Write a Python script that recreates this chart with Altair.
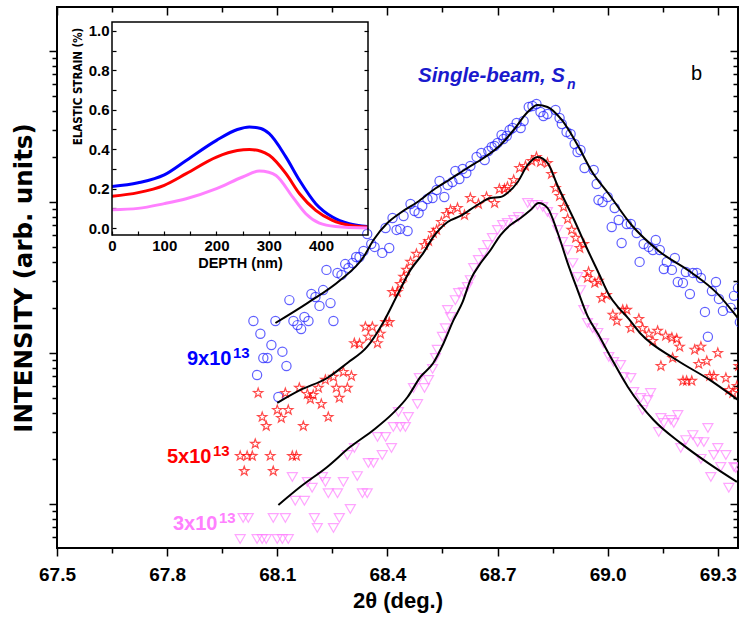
import altair as alt
import pandas as pd

# ---------------- main data: 2theta (deg) and intensity (arb. units) ----------------
blue_x = [68.035, 68.045, 68.054, 68.062, 68.073, 68.084, 68.095, 68.103, 68.114, 68.125,
          68.133, 68.144, 68.155, 68.165, 68.174, 68.185, 68.193, 68.204, 68.215, 68.225,
          68.234, 68.245, 68.253, 68.264, 68.275, 68.285, 68.294, 68.305, 68.315, 68.324,
          68.335, 68.345, 68.356, 68.365, 68.386, 68.395, 68.405, 68.414, 68.425, 68.435,
          68.444, 68.455, 68.463, 68.474, 68.485, 68.495, 68.509, 68.523, 68.534, 68.542,
          68.555, 68.564, 68.577, 68.585, 68.596, 68.605, 68.615, 68.626, 68.643, 68.656,
          68.665, 68.675, 68.684, 68.692, 68.700, 68.711, 68.716, 68.725, 68.733, 68.741,
          68.752, 68.763, 68.771, 68.785, 68.795, 68.806, 68.817, 68.825, 68.836, 68.858,
          68.869, 68.875, 68.888, 68.899, 68.910, 68.918, 68.926, 68.937, 68.962, 68.970,
          68.975, 68.986, 69.000, 69.011, 69.019, 69.030, 69.038, 69.052, 69.063, 69.079,
          69.087, 69.098, 69.112, 69.123, 69.131, 69.142, 69.153, 69.161, 69.175, 69.183,
          69.191, 69.205, 69.213, 69.224, 69.232, 69.243, 69.254, 69.265, 69.273, 69.284,
          69.295, 69.303, 69.314, 69.335, 69.344, 69.355, 69.360]
blue_y = [163, 71.5, 134, 92.7, 92.7, 113, 163, 51.1, 102, 82.0,
          224, 163, 153, 144, 173, 163, 246, 235, 205, 261,
          355, 214, 163, 339, 329, 388, 366, 394, 432, 432,
          474, 614, 527, 504, 460, 673, 496, 784, 653, 663,
          808, 643, 970, 872, 846, 941, 1047, 1063, 1201, 1377,
          1079, 1296, 1357, 1605, 1420, 1654, 1556, 1731, 1986, 2112,
          1897, 2176, 2313, 2349, 2459, 2778, 2613, 2736, 2999, 3091,
          3336, 3091, 3439, 4258, 4324, 4457, 3945, 3711, 3827, 4067,
          3599, 3286, 2909, 2820, 2422, 2143, 2209, 1679, 1629, 1316,
          1031, 1000, 1079, 683, 913, 760, 535, 715, 715, 623,
          401, 527, 504, 481, 560, 481, 360, 401, 355, 426,
          295, 291, 344, 246, 339, 339, 314, 187, 128, 257,
          295, 228, 190, 199, 239, 269, 160]

red_x = [67.999, 68.010, 68.018, 68.032, 68.040, 68.048, 68.059, 68.070, 68.081, 68.089,
         68.100, 68.111, 68.122, 68.130, 68.141, 68.152, 68.160, 68.171, 68.182, 68.190,
         68.198, 68.212, 68.220, 68.231, 68.239, 68.253, 68.261, 68.269, 68.280, 68.291,
         68.302, 68.310, 68.324, 68.340, 68.348, 68.359, 68.373, 68.381, 68.395, 68.405,
         68.414, 68.427, 68.435, 68.444, 68.452, 68.463, 68.479, 68.501, 68.512, 68.525,
         68.534, 68.547, 68.561, 68.572, 68.591, 68.610, 68.626, 68.648, 68.670, 68.692,
         68.705, 68.719, 68.727, 68.744, 68.760, 68.776, 68.793, 68.806, 68.817, 68.836,
         68.847, 68.858, 68.869, 68.880, 68.891, 68.902, 68.913, 68.924, 68.935, 68.948,
         68.945, 68.965, 68.975, 68.984, 68.997, 69.014, 69.025, 69.041, 69.052, 69.063,
         69.085, 69.095, 69.112, 69.123, 69.136, 69.145, 69.158, 69.175, 69.188, 69.196,
         69.177, 69.205, 69.215, 69.229, 69.237, 69.254, 69.248, 69.270, 69.278, 69.289,
         69.300, 69.322, 69.330, 69.341, 69.352, 69.357]
red_y = [20.8, 16.5, 20.8, 20.8, 25.0, 54.3, 37.7, 32.8, 20.8, 16.5,
         41.9, 37.1, 54.3, 41.9, 20.8, 20.8, 58.7, 32.8, 53.5, 49.6,
         52.7, 58.7, 45.9, 66.3, 37.7, 69.4, 58.7, 50.4, 74.8, 58.7,
         70.4, 116, 115, 149, 128, 149, 116, 134, 160, 160,
         253, 253, 286, 319, 355, 401, 453, 519, 552, 623,
         653, 737, 833, 885, 913, 820, 1063, 970, 1079, 985,
         1219, 1219, 1257, 1399, 1679, 1731, 1868, 1986, 1840, 1813,
         1532, 1238, 1096, 927, 772, 653, 578, 496, 527, 344,
         314, 291, 300, 231, 242, 179, 163, 193, 193, 146,
         168, 146, 134, 120, 140, 82.0, 130, 126, 124, 110,
         92.7, 65.3, 65.3, 65.3, 105, 110, 84.6, 88.5, 70.4, 70.4,
         100, 68.3, 56.9, 54.3, 60.4, 82.0]

violet_x = [67.999, 68.007, 68.021, 68.045, 68.059, 68.070, 68.089, 68.100, 68.114, 68.122,
            68.130, 68.141, 68.149, 68.174, 68.182, 68.195, 68.201, 68.209, 68.223, 68.231,
            68.239, 68.253, 68.264, 68.269, 68.280, 68.291, 68.299, 68.310, 68.318, 68.332,
            68.345, 68.348, 68.362, 68.373, 68.386, 68.395, 68.411, 68.416, 68.430, 68.435,
            68.449, 68.457, 68.471, 68.482, 68.487, 68.501, 68.512, 68.523, 68.531, 68.536,
            68.550, 68.558, 68.564, 68.572, 68.585, 68.594, 68.607, 68.618, 68.626, 68.635,
            68.648, 68.662, 68.673, 68.686, 68.700, 68.714, 68.727, 68.744, 68.757, 68.782,
            68.795, 68.809, 68.823, 68.836, 68.850, 68.864, 68.877, 68.891, 68.905, 68.918,
            68.926, 68.935, 68.945, 68.959, 68.973, 68.989, 69.003, 69.016, 69.035, 69.044,
            69.063, 69.071, 69.090, 69.095, 69.109, 69.117, 69.139, 69.145, 69.153, 69.172,
            69.180, 69.191, 69.199, 69.213, 69.232, 69.245, 69.254, 69.262, 69.273, 69.281,
            69.289, 69.300, 69.308, 69.322, 69.330, 69.344, 69.349]
violet_y = [5.86, 8.08, 8.08, 5.86, 5.86, 5.86, 8.08, 5.86, 5.86, 8.08,
            5.86, 15.1, 10.5, 10.5, 14.0, 12.8, 8.08, 6.94, 15.1, 14.0,
            11.8, 6.94, 11.8, 8.08, 14.0, 21.1, 9.27, 23.5, 15.3, 11.8,
            11.8, 18.7, 18.7, 27.8, 21.1, 27.8, 23.5, 32.4, 40.7, 32.4,
            32.4, 37.7, 58.7, 45.9, 68.3, 58.7, 66.3, 78.4, 92.7, 105,
            128, 146, 193, 173, 224, 250, 253, 274, 304, 366,
            413, 460, 519, 578, 653, 704, 726, 760, 796, 985,
            955, 955, 927, 859, 784, 653, 543, 481, 394, 319,
            261, 193, 158, 146, 136, 116, 94.1, 87.2, 83.3, 69.4,
            68.3, 55.2, 50.4, 41.9, 48.8, 54.3, 30.0, 37.1, 34.4, 36.0,
            34.4, 38.9, 23.5, 26.5, 28.6, 25.7, 19.9, 25.7, 31.9, 15.1,
            21.1, 23.5, 17.6, 21.1, 12.8, 17.6, 17.3]

# fitted curves
bluefit_x = [68.095, 68.182, 68.272, 68.335, 68.362, 68.400, 68.435, 68.482, 68.525, 68.572,
             68.618, 68.662, 68.708, 68.744, 68.782, 68.809, 68.836, 68.875, 68.921, 68.956,
             69.003, 69.065, 69.139, 69.226, 69.297, 69.355]
bluefit_y = [158, 214, 304, 432, 560, 726, 846, 1000, 1201, 1420,
             1679, 1956, 2385, 2999, 3945, 4390, 4258, 3493, 2313, 1605,
             1130, 704, 474, 344, 250, 170]
redfit_x = [68.100, 68.163, 68.236, 68.291, 68.345, 68.389, 68.427, 68.463, 68.498, 68.525,
            68.564, 68.599, 68.645, 68.681, 68.708, 68.727, 68.755, 68.782, 68.809, 68.836,
            68.864, 68.910, 68.943, 68.975, 69.005, 69.030, 69.055, 69.090, 69.188, 69.278,
            69.355]
redfit_y = [46.7, 56.9, 68.3, 85.9, 110, 160, 242, 355, 460, 587,
            737, 808, 955, 1063, 1079, 1147, 1357, 1758, 1986, 1813,
            1276, 748, 496, 340, 239, 199, 171, 134, 89.9, 66.3,
            48.8]
violetfit_x = [68.103, 68.163, 68.236, 68.299, 68.362, 68.416, 68.455, 68.490, 68.525, 68.553,
               68.580, 68.605, 68.626, 68.654, 68.681, 68.708, 68.735, 68.763, 68.790, 68.812,
               68.836, 68.864, 68.891, 68.918, 68.945, 68.975, 69.008, 69.055, 69.125, 69.199,
               69.273, 69.352]
violetfit_y = [9.85, 13.0, 17.6, 23.9, 30.9, 40.1, 51.1, 69.4, 85.9, 116,
               165, 218, 304, 394, 481, 604, 704, 784, 885, 985,
               913, 623, 394, 261, 176, 132, 94.1, 59.6, 36.0, 25.3,
               18.7, 14.0]

# ---------------- inset data: depth (nm) vs elastic strain (%) ----------------
inset_blue_depth = [0, 50, 100, 142, 200, 240, 263, 285, 301, 333, 359, 390, 422, 454, 489]
inset_blue_strain = [0.211, 0.23, 0.27, 0.343, 0.445, 0.50, 0.513, 0.505, 0.479, 0.36, 0.242, 0.124, 0.056, 0.022, 0.008]
inset_red_depth = [0, 50, 100, 142, 200, 240, 263, 285, 301, 333, 359, 390, 422, 454, 489]
inset_red_strain = [0.162, 0.18, 0.217, 0.276, 0.36, 0.393, 0.398, 0.39, 0.369, 0.276, 0.174, 0.09, 0.039, 0.014, 0.005]
inset_violet_depth = [0, 50, 100, 142, 200, 250, 282, 300, 314, 346, 371, 397, 428, 489]
inset_violet_strain = [0.093, 0.10, 0.124, 0.149, 0.2, 0.259, 0.289, 0.283, 0.267, 0.157, 0.073, 0.025, 0.008, 0.0]

series_names = ["9x10^13", "5x10^13", "3x10^13"]
series_colors = ["#0000ff", "#ff0000", "#ff80ff"]

x_major = [67.5, 67.8, 68.1, 68.4, 68.7, 69.0, 69.3]
x_minor = [67.65, 67.95, 68.25, 68.55, 68.85, 69.15]
y_major = [10, 100, 1000, 10000]
y_minor = [6, 7, 8, 9] + [m * d for d in (10, 100, 1000) for m in range(2, 10)]
inset_y_ticks = [0.0, 0.1, 0.2, 0.3, 0.4, 0.5, 0.6, 0.7, 0.8, 0.9, 1.0]
inset_x_ticks = [0, 50, 100, 150, 200, 250, 300, 350, 400, 450]

# ---------------- layout constants ----------------
W, H = 681, 541
X_DOMAIN = [67.5, 69.355]
Y_DOMAIN = [5.11, 19560]
IN_X_DOMAIN = [0, 490]
IN_Y_DOMAIN = [-0.035, 1.045]
IN_X_RANGE = [55, 311]
IN_Y_RANGE = [228, 15]
FONT = "Liberation Sans"
TITLE_FONT = "DejaVu Sans"
NARROW_FONT = "Liberation Sans Narrow, DejaVu Sans Condensed, Liberation Sans"
STAR = "M0,-1L0.235,-0.324L0.951,-0.309L0.38,0.124L0.588,0.809L0,0.4L-0.588,0.809L-0.38,0.124L-0.951,-0.309L-0.235,-0.324Z"


def xs():
    return alt.Scale(domain=X_DOMAIN, nice=False, zero=False)


def ys():
    return alt.Scale(type="log", domain=Y_DOMAIN, nice=False)


def ticks_axis(orient, values, size, offset=0):
    return alt.Axis(orient=orient, values=values, tickSize=size, tickWidth=1.5,
                    tickColor="black", labels=False, domain=False, grid=False,
                    title=None, offset=offset)


ax_bottom_major = alt.Axis(orient="bottom", values=x_major, format=".1f", tickSize=8,
                           tickWidth=1.5, tickColor="black", domain=False, grid=False,
                           labelFont=FONT, labelFontSize=19, labelFontWeight="bold",
                           labelColor="black", labelPadding=9, labelFlush=False,
                           labelOverlap=False, title="2θ (deg.)", titleFont=FONT,
                           titleFontSize=22, titleFontWeight="bold", titleColor="black",
                           titlePadding=6)
ax_left_major = alt.Axis(orient="left", values=y_major, tickSize=8, tickWidth=1.5,
                         tickColor="black", labels=False, domain=False, grid=False,
                         title="INTENSITY (arb. units)", titleFont=TITLE_FONT,
                         titleFontSize=24.5, titleFontWeight="bold", titleColor="black",
                         titlePadding=12)

df_blue = pd.DataFrame({"t": blue_x, "i": blue_y})
df_red = pd.DataFrame({"t": red_x, "i": red_y})
df_violet = pd.DataFrame({"t": violet_x, "i": violet_y})
df_fit = pd.concat([
    pd.DataFrame({"t": bluefit_x, "i": bluefit_y, "s": series_names[0]}),
    pd.DataFrame({"t": redfit_x, "i": redfit_y, "s": series_names[1]}),
    pd.DataFrame({"t": violetfit_x, "i": violetfit_y, "s": series_names[2]}),
])

blue = alt.Chart(df_blue).mark_point(shape="circle", filled=False, color="#1e1eff",
                                     size=85, strokeWidth=1.2, clip=True).encode(
    x=alt.X("t:Q", scale=xs(), axis=ax_bottom_major),
    y=alt.Y("i:Q", scale=ys(), axis=ax_left_major))

red = alt.Chart(df_red).mark_point(shape=STAR, filled=False, color="#ff0000",
                                   size=95, strokeWidth=1.2, clip=True).encode(
    x=alt.X("t:Q", scale=xs(), axis=ticks_axis("bottom", x_minor, 5)),
    y=alt.Y("i:Q", scale=ys(), axis=ticks_axis("left", y_minor, 5)))

violet = alt.Chart(df_violet).mark_point(shape="triangle-down", filled=False,
                                         color="#ff80ff", size=100, strokeWidth=1.2,
                                         clip=True).encode(
    x=alt.X("t:Q", scale=xs(), axis=ticks_axis("top", x_major, 8, -8)),
    y=alt.Y("i:Q", scale=ys(), axis=ticks_axis("right", y_major, 8, -8)))

fits = alt.Chart(df_fit).mark_line(color="black", strokeWidth=2, interpolate="monotone",
                                   clip=True).encode(
    x=alt.X("t:Q", scale=xs(), axis=ticks_axis("top", x_minor, 5, -5)),
    y=alt.Y("i:Q", scale=ys(), axis=ticks_axis("right", y_minor, 5, -5)),
    detail="s:N")

# ---------------- inset ----------------
df_inset = pd.concat([
    pd.DataFrame({"d": inset_blue_depth, "e": inset_blue_strain, "s": series_names[0]}),
    pd.DataFrame({"d": inset_red_depth, "e": inset_red_strain, "s": series_names[1]}),
    pd.DataFrame({"d": inset_violet_depth, "e": inset_violet_strain, "s": series_names[2]}),
])


def ixs():
    return alt.Scale(domain=IN_X_DOMAIN, range=IN_X_RANGE, nice=False, zero=False)


def iys():
    return alt.Scale(domain=IN_Y_DOMAIN, range=IN_Y_RANGE, nice=False, zero=False)


ax_in_bottom = alt.Axis(orient="bottom", offset=-(H - IN_Y_RANGE[0] + 4), values=inset_x_ticks,
                        labelExpr="datum.value % 100 === 0 ? datum.label : ''",
                        tickSize=4, tickWidth=1.2, tickColor="black", domain=False,
                        grid=False, labelFont=FONT, labelFontSize=15,
                        labelFontWeight="bold", labelColor="black", labelPadding=3,
                        labelFlush=False, labelOverlap=False, title="DEPTH (nm)",
                        titleFont=FONT, titleFontSize=14.5, titleFontWeight="bold",
                        titleColor="black", titlePadding=3)
ax_in_left = alt.Axis(orient="left", offset=-(IN_X_RANGE[0] + 4), values=inset_y_ticks,
                      labelExpr="round(datum.value * 10) % 2 === 0 ? format(datum.value, '.1f') : ''",
                      tickSize=4, tickWidth=1.2, tickColor="black", domain=False,
                      grid=False, labelFont=FONT, labelFontSize=15, labelFontWeight="bold",
                      labelColor="black", labelPadding=3, labelFlush=False,
                      labelOverlap=False, title="ELASTIC STRAIN (%)", titleFont=NARROW_FONT,
                      titleFontSize=11.5, titleFontWeight="bold", titleColor="black",
                      titlePadding=5, titleY=79)
ax_in_right = alt.Axis(orient="right", offset=-(W - IN_X_RANGE[1] + 4), values=inset_y_ticks,
                       tickSize=4, tickWidth=1.2, tickColor="black", labels=False,
                       domain=False, grid=False, title=None)

inset_lines = alt.Chart(df_inset).mark_line(strokeWidth=3, interpolate="monotone").encode(
    x=alt.X("d:Q", scale=ixs(), axis=ax_in_bottom),
    y=alt.Y("e:Q", scale=iys(), axis=ax_in_left),
    color=alt.Color("s:N", scale=alt.Scale(domain=series_names, range=series_colors),
                    legend=None),
    detail="s:N")

df_frame = pd.DataFrame({"d0": [IN_X_DOMAIN[0]], "d1": [IN_X_DOMAIN[1]],
                         "e0": [IN_Y_DOMAIN[0]], "e1": [IN_Y_DOMAIN[1]]})
inset_frame = alt.Chart(df_frame).mark_rect(fillOpacity=0, stroke="black",
                                            strokeWidth=1.5).encode(
    x=alt.X("d0:Q", scale=ixs(), axis=None), x2="d1:Q",
    y=alt.Y("e0:Q", scale=iys(), axis=ax_in_right), y2="e1:Q")


# ---------------- annotations ----------------
def label(text, x, y, size, color, weight="bold", style="normal"):
    return alt.Chart(pd.DataFrame({"txt": [text]})).mark_text(
        align="left", baseline="alphabetic", font=FONT, fontSize=size,
        fontWeight=weight, fontStyle=style, color=color).encode(
        x=alt.value(x), y=alt.value(y), text="txt:N")


texts = [
    label("Single-beam, S", 361, 75, 20.5, "#1a1acd", style="italic"),
    label("n", 510, 82, 14, "#1a1acd", style="italic"),
    label("b", 634, 73, 20, "black", weight="normal"),
    label("9x10", 130, 358, 20, "#0000ff"),
    label("13", 176, 351, 15, "#0000ff"),
    label("5x10", 110, 456, 20, "#ff0000"),
    label("13", 156, 449, 15, "#ff0000"),
    label("3x10", 116, 523, 20, "#ff80ff"),
    label("13", 162, 516, 15, "#ff80ff"),
]

chart = alt.layer(blue, red, violet, fits, inset_lines, inset_frame, *texts).resolve_scale(
    x="independent", y="independent").properties(
    width=W, height=H,
    padding={"left": 57, "top": 7, "right": 3, "bottom": 82},
    autosize=alt.AutoSizeParams(type="none"),
    background="white",
).configure_view(stroke="black", strokeWidth=2).configure_axis(grid=False)

chart.save("out.html", embed_options={"renderer": "svg", "actions": False})
